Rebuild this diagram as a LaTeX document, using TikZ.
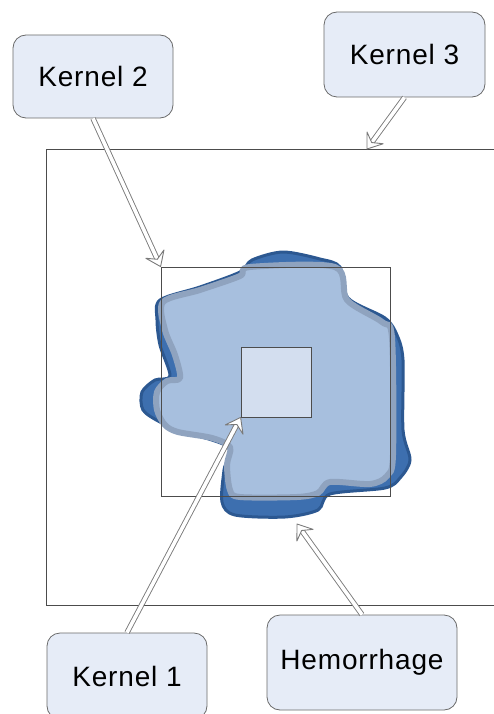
\documentclass[tikz,border=0pt]{standalone}
\usepackage{fontspec}
\setmainfont{Liberation Sans}[LetterSpace=3]
\usetikzlibrary{calc}

\definecolor{calloutfill}{HTML}{E6ECF7}
\definecolor{calloutline}{HTML}{6A6A6A}
\definecolor{blobdark}{HTML}{3D6FAF}
\definecolor{blobdarkline}{HTML}{2C5891}
\definecolor{bloblight}{HTML}{A7BFDE}
\definecolor{bloblightline}{HTML}{8FA3BF}
\definecolor{kernelfill}{HTML}{D3DEEF}
\definecolor{arrowline}{HTML}{7A7A7A}

% outlined block arrow: white shaft and open head
\newcommand{\hollowarrow}[2]{%
    \draw[shaft] (#1) -- ($(#2)!8pt!(#1)$);
    \draw[head] (#2) -- ($(#2)!17pt!36:(#1)$) -- ($(#2)!8pt!(#1)$)
        -- ($(#2)!17pt!-36:(#1)$) -- cycle;
}

\begin{document}
\begin{tikzpicture}[
    x=1pt, y=-1pt,
    callout/.style = {draw=calloutline, fill=calloutfill, rounded corners=13pt,
                      line width=0.8pt, font=\fontsize{28}{32}\selectfont},
    frame/.style   = {draw=black!70, line width=0.8pt, inner sep=0pt},
    shaft/.style   = {draw=arrowline, double=white, double distance=3.6pt,
                      line width=0.9pt},
    head/.style    = {draw=arrowline, fill=white, line width=0.9pt, line join=round}
    ]
    \useasboundingbox (0,0) rectangle (494,714);
    \clip (0,0) rectangle (494,714);

    % the bleed: dark rim first, lighter core on top
    \draw[fill=blobdark, draw=blobdarkline, line width=3pt, line join=round]
        plot[smooth cycle, tension=0.5] coordinates {
        (160,300) (200,287) (240,272) (252,260) (283,252) (320,259) (340,267)
        (348,298) (385,318) (397,335) (403,360) (403,430) (410,460) (400,478)
        (385,488) (330,494) (318,510) (285,517) (235,515) (222,502) (224,470)
        (228,447) (185,432) (160,422) (143,410) (142,392) (155,380) (170,376)
        (160,345) (157,320)};
    \draw[fill=bloblight, draw=bloblightline, line width=6pt, line join=round]
        plot[smooth cycle, tension=0.5] coordinates {
        (163,302) (200,290) (240,276) (250,267) (335,267) (347,300) (382,322)
        (392,338) (393,455) (387,476) (370,484) (330,482) (318,493) (297,497)
        (240,497) (230,490) (227,465) (230,447) (212,438) (178,432) (165,425)
        (157,410) (157,392) (167,381) (180,378) (175,355) (165,330)};

    % kernel windows
    \node[frame, minimum width=460pt, minimum height=456pt] (outer) at (276,377) {};
    \node[frame, minimum size=229pt] (mid) at (275.5,381.5) {};
    \node[frame, fill=kernelfill, minimum size=70pt] (inner) at (276,382) {};

    % labels
    \node[callout, minimum width=160pt, minimum height=83pt] (k2) at (93,76.5) {Kernel 2};
    \node[callout, minimum width=161pt, minimum height=85pt] (k3) at (404.5,54.5) {Kernel 3};
    \node[callout, minimum width=160pt, minimum height=86pt] (k1) at (127,676) {Kernel 1};
    \node[callout, minimum width=190pt, minimum height=95pt] (hem) at (362,662.5) {Hemorrhage};

    \coordinate (k3tip) at (367,149);
    \coordinate (hemtip) at (297,524);

    \hollowarrow{k2.south}{mid.north west}
    \hollowarrow{k3.south}{k3tip}
    \hollowarrow{k1.north}{inner.south west}
    \hollowarrow{hem.north}{hemtip}
\end{tikzpicture}
\end{document}
